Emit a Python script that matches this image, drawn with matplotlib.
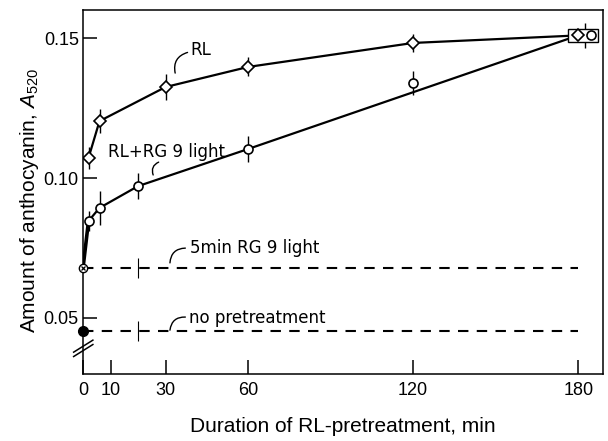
import matplotlib.pyplot as plt
from matplotlib.patches import Rectangle

plt.rcParams['font.family'] = ['Liberation Sans', 'DejaVu Sans']
plt.rcParams['mathtext.fontset'] = 'custom'
plt.rcParams['mathtext.rm'] = 'Liberation Sans'
plt.rcParams['mathtext.it'] = 'Liberation Sans:italic'

# RL pretreatment (diamonds)
rl_x = [2, 6, 30, 60, 120, 180]
rl_y = [0.1072, 0.1204, 0.1326, 0.1398, 0.1484, 0.1511]
rl_err = [0.0041, 0.0043, 0.0048, 0.0034, 0.0032, 0.0045]

# RL + RG 9 light (open circles)
rg_x = [2, 6, 20, 60, 120, 180]
rg_y = [0.0846, 0.0893, 0.0971, 0.1104, 0.1340, 0.1511]
rg_err = [0.0036, 0.0060, 0.0047, 0.0048, 0.0043, 0.0]
rg_on_line = [True, True, True, True, False, True]

# 5 min RG 9 light only, and no pretreatment
pulse_y = 0.0677
none_y = 0.0451
ref_err_x = 20
ref_err = 0.0036
end_x = 180

xticks = [0, 10, 30, 60, 120, 180]
yticks = [0.05, 0.10, 0.15]
ytick_labels = ['0.05', '0.10', '0.15']

fig = plt.figure(figsize=(6.08, 4.41), dpi=100)
ax = fig.add_axes([83 / 608, 1 - 374 / 441, 520 / 608, 364 / 441])
ax.set_xlim(0, 189)
ax.set_ylim(0.0298, 0.1602)

shift = 4.7  # the 180-min circle is drawn beside the diamond

# reference lines
ax.plot([0, end_x], [pulse_y, pulse_y], color='black', lw=1.5, ls=(0, (5, 4)))
ax.plot([0, end_x], [none_y, none_y], color='black', lw=1.5, ls=(0, (5, 4)))
ax.errorbar([ref_err_x, ref_err_x], [pulse_y, none_y], yerr=ref_err, fmt='none',
            ecolor='black', elinewidth=0.8, capsize=0)

# RL + RG 9 curve
lx = [0] + [x for x, k in zip(rg_x, rg_on_line) if k]
ly = [pulse_y] + [y for y, k in zip(rg_y, rg_on_line) if k]
ax.plot(lx[:2], ly[:2], color='black', lw=2.6, zorder=3)
ax.plot(lx[1:], ly[1:], color='black', lw=1.6, zorder=3)
ax.errorbar(rg_x[:-1], rg_y[:-1], yerr=rg_err[:-1], fmt='none', ecolor='black',
            elinewidth=1.0, capsize=0, zorder=3)
ax.plot(rg_x[:-1], rg_y[:-1], 'o', ms=6.5, mfc='white', mec='black', mew=1.2, zorder=5)
ax.plot([rg_x[-1] + shift], [rg_y[-1]], 'o', ms=6.5, mfc='white', mec='black',
        mew=1.2, zorder=6)

# RL curve
ax.plot(rl_x, rl_y, color='black', lw=1.6, zorder=3)
ax.errorbar(rl_x[:-1] + [rl_x[-1] + shift / 2], rl_y, yerr=rl_err, fmt='none',
            ecolor='black', elinewidth=1.0, capsize=0, zorder=3)
ax.plot(rl_x, rl_y, 'D', ms=6.5, mfc='white', mec='black', mew=1.2, zorder=5)

# box around the 180-min pair
ax.add_patch(Rectangle((rl_x[-1] - 3.6, rl_y[-1] - 0.00235), 10.9, 0.0047,
                       fill=True, fc='white', ec='black', lw=1.0, zorder=4))

# start points on the axis
ax.plot([0], [pulse_y], 'o', ms=6, mfc='white', mec='black', mew=1.0, zorder=6,
        clip_on=False)
ax.plot([0], [pulse_y], 'x', ms=3.5, color='black', mew=0.9, zorder=7, clip_on=False)
ax.plot([0], [none_y], 'o', ms=7, color='black', zorder=6, clip_on=False)

# labels
lab = dict(fontsize=12, family='DejaVu Sans', va='center', ha='left')
ax.text(39, 0.1459, 'RL', **lab)
ax.text(9, 0.1093, 'RL+RG 9 light', **lab)
ax.text(39, 0.0749, '5min RG 9 light', **lab)
ax.text(38.5, 0.0500, 'no pretreatment', **lab)

# curved leaders: (point on curve, end near label)
leaders = [((33.5, 0.1376), (38.0, 0.1450)),
           ((25.5, 0.1011), (27.5, 0.1057)),
           ((31.6, 0.0696), (37.2, 0.0749)),
           ((31.6, 0.0455), (37.2, 0.0502))]
for p0, p1 in leaders:
    ax.annotate('', xy=p0, xytext=p1,
                arrowprops=dict(arrowstyle='-', color='black', lw=1.0, shrinkA=0,
                                shrinkB=0, connectionstyle='arc3,rad=0.45'))

# axes styling
for s in ax.spines.values():
    s.set_linewidth(1.1)
ax.set_xticks(xticks)
ax.set_yticks(yticks)
ax.set_yticklabels(ytick_labels)
ax.tick_params(direction='in', length=10, width=1.1, labelsize=13)
ax.tick_params(axis='x', pad=6)
ax.tick_params(axis='y', pad=3)

# axis break marks
for dy in (0.0, -0.012):
    ax.plot([-0.018, 0.019], [0.060 + dy, 0.093 + dy], color='black', lw=1.1,
            transform=ax.transAxes, clip_on=False, zorder=8)

fig.text(30 / 608, 1 - 201 / 441, r'Amount of anthocyanin, $\mathit{A}_{520}$',
         rotation=90, ha='center', va='center', fontsize=15)
fig.text(343 / 608, 1 - 427 / 441, 'Duration of RL-pretreatment, min',
         ha='center', va='center', fontsize=15)

fig.savefig('out.png', dpi=100)
